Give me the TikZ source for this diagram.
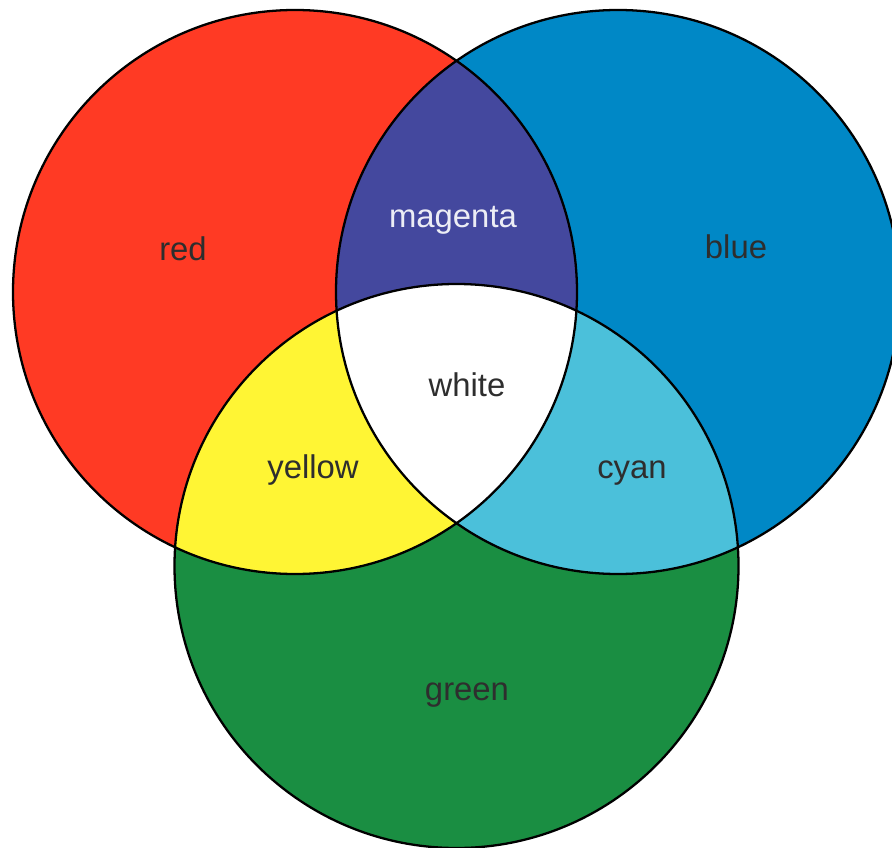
\documentclass[tikz,border=0pt]{standalone}
\usepackage{fontspec}
\setmainfont{Liberation Sans}
\definecolor{redc}{RGB}{255,58,36}
\definecolor{bluec}{RGB}{0,136,198}
\definecolor{greenc}{RGB}{26,142,66}
\definecolor{magentac}{RGB}{68,72,158}
\definecolor{yellowc}{RGB}{255,245,52}
\definecolor{cyanc}{RGB}{75,192,218}

\begin{document}
\begin{tikzpicture}[
      x=0.02cm,
      y=-0.02cm,
      radius=282,
      rim/.style={draw=black, line width=1.3pt},
      lbl/.style={anchor=base, inner sep=0pt, text=black!82,
        font=\fontsize{18.7}{22}\selectfont}
    ]
    \useasboundingbox (0,0) rectangle (892,848);
    \clip (0,0) rectangle (892,848);

    \coordinate (red) at (295,292);
    \coordinate (blue) at (618,292);
    \coordinate (green) at (456.5,566);

    % single colours
    \fill[redc] (red) circle;
    \fill[bluec] (blue) circle;
    \fill[greenc] (green) circle;

    % overlaps
    \begin{scope}
      \clip (red) circle;
      \fill[magentac] (blue) circle;
      \fill[yellowc] (green) circle;
    \end{scope}
    \begin{scope}
      \clip (blue) circle;
      \fill[cyanc] (green) circle;
      \clip (green) circle;
      \fill[white] (red) circle;
    \end{scope}

    \draw[rim] (red) circle;
    \draw[rim] (blue) circle;
    \draw[rim] (green) circle;

    \node[lbl] (redtxt) at (183,260) {red};
    \node[lbl] (bluetxt) at (736,258) {blue};
    \node[lbl, text=white!90!magentac] (magtxt) at (453,227) {magenta};
    \node[lbl] (whitetxt) at (467,396) {white};
    \node[lbl] (yellowtxt) at (313,478) {yellow};
    \node[lbl] (cyantxt) at (632,478) {cyan};
    \node[lbl] (greentxt) at (467,700) {green};
  \end{tikzpicture}
\end{document}
